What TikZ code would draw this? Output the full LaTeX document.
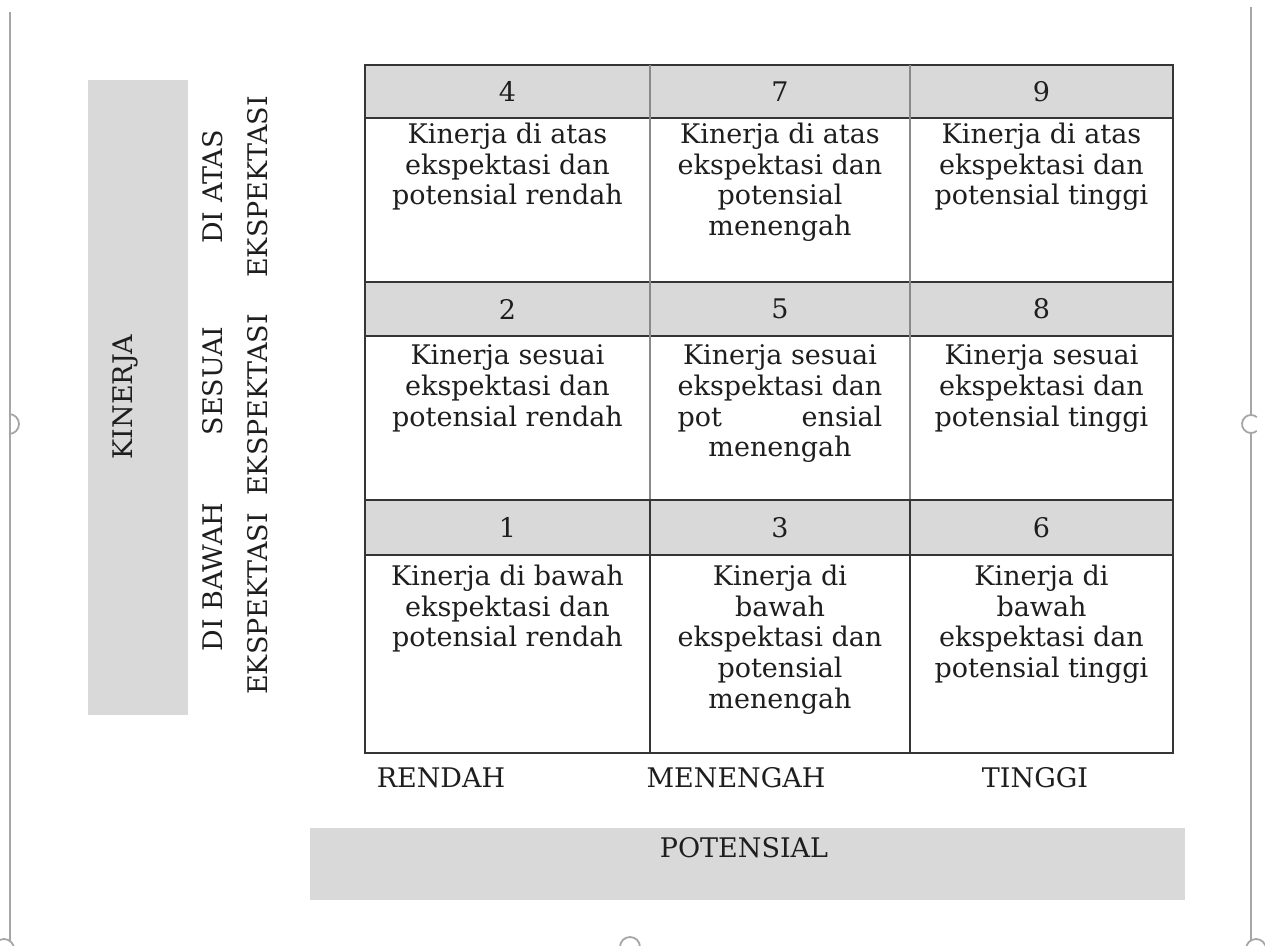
\documentclass[tikz,border=0pt]{standalone}
\usepackage{fontspec}
\usepackage{calc}
\setmainfont{DejaVu Serif}
\definecolor{bandgray}{HTML}{D9D9D9}
\definecolor{gridline}{HTML}{353535}
\definecolor{gridgray}{HTML}{8A8A8A}
\definecolor{framegray}{HTML}{A6A6A6}
\definecolor{ink}{HTML}{1E1E1E}
\begin{document}
\begin{tikzpicture}[x=1pt,y=-1pt,
  band/.style={fill=bandgray},
  grid/.style={draw=gridline, line width=1.6pt, line cap=rect},
  inner/.style={draw=gridgray, line width=1.4pt},
  txt/.style={inner sep=0pt, text=ink, font=\fontsize{27}{30.8}\selectfont},
  cell/.style={txt, anchor=north, align=center},
  vlbl/.style={txt, rotate=90},
  frame/.style={draw=framegray, line width=1.6pt},
  handle/.style={draw=framegray, line width=1.8pt}]

\useasboundingbox (0,0) rectangle (1265,945);

% Frame lines and handles of the picture box
\draw[frame] (10,12) -- (10,945);
\draw[frame] (1251,7) -- (1251,945);
\draw[handle] (9,424) ++(-90:10) arc[start angle=-90, end angle=90, radius=10];
\fill[white] (1251,424) circle[radius=9];
\draw[handle] (1251,424) ++(50:9) arc[start angle=50, end angle=310, radius=9];
\draw[handle, fill=white] (630,947) circle[radius=10];
\draw[handle, fill=white] (4,949) circle[radius=10];
\draw[handle, fill=white] (1256,949) circle[radius=10];

% Axis boxes
\fill[band] (88,80) rectangle (188,715);
\fill[band] (310,828) rectangle (1185,900);
\node[vlbl] (kinerja) at (125,397) {KINERJA};
\node[txt] (potensial) at (744,848) {POTENSIAL};

% Row labels
\node[vlbl] (atas1) at (213,187) {DI ATAS};
\node[vlbl] (atas2) at (258,187) {EKSPEKTASI};
\node[vlbl] (sesuai1) at (213,381) {SESUAI};
\node[vlbl] (sesuai2) at (258,405) {EKSPEKTASI};
\node[vlbl] (bawah1) at (213,577) {DI BAWAH};
\node[vlbl] (bawah2) at (258,604) {EKSPEKTASI};

% Column labels
\node[txt] (rendah) at (441,778) {RENDAH};
\node[txt] (menengah) at (736,778) {MENENGAH};
\node[txt] (tinggi) at (1035,778) {TINGGI};

% Grid
\foreach \t/\b in {65/118, 282/336, 500/555}
  \fill[band] (365,\t) rectangle (1173,\b);
\foreach \y in {65,118,282,336,500,555,753}
  \draw[grid] (365,\y) -- (1173,\y);
\draw[grid] (365,65) -- (365,753);
\draw[grid] (1173,65) -- (1173,753);
\foreach \x in {650,910} {
  \draw[inner] (\x,65) -- (\x,500);
  \draw[grid] (\x,500) -- (\x,753);
}

% Box numbers
\node[txt] (n4) at (507.5,91.5) {4};
\node[txt] (n7) at (780,91.5) {7};
\node[txt] (n9) at (1041.5,91.5) {9};
\node[txt] (n2) at (507.5,309) {2};
\node[txt] (n5) at (780,309) {5};
\node[txt] (n8) at (1041.5,309) {8};
\node[txt] (n1) at (507.5,527.5) {1};
\node[txt] (n3) at (780,527.5) {3};
\node[txt] (n6) at (1041.5,527.5) {6};

% Box texts
\node[cell] (k4) at (507.5,122.5) {Kinerja di atas\\ekspektasi dan\\potensial rendah};
\node[cell] (k7) at (780,122.5) {Kinerja di atas\\ekspektasi dan\\potensial\\menengah};
\node[cell] (k9) at (1041.5,122.5) {Kinerja di atas\\ekspektasi dan\\potensial tinggi};
\node[cell] (k2) at (507.5,344.5) {Kinerja sesuai\\ekspektasi dan\\potensial rendah};
\node[cell] (k5) at (780,344.5) {Kinerja sesuai\\ekspektasi dan\\\makebox[\widthof{ekspektasi dan}]{pot\hfill ensial}\\menengah};
\node[cell] (k8) at (1041.5,344.5) {Kinerja sesuai\\ekspektasi dan\\potensial tinggi};
\node[cell] (k1) at (507.5,564.5) {Kinerja di bawah\\ekspektasi dan\\potensial rendah};
\node[cell] (k3) at (780,564.5) {Kinerja di\\bawah\\ekspektasi dan\\potensial\\menengah};
\node[cell] (k6) at (1041.5,564.5) {Kinerja di\\bawah\\ekspektasi dan\\potensial tinggi};

\end{tikzpicture}
\end{document}
